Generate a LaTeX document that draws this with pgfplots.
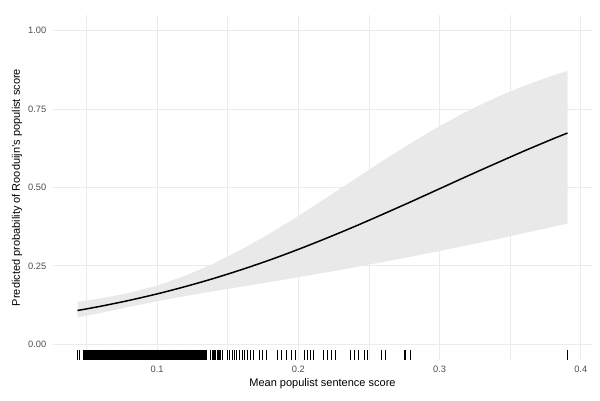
\documentclass[border=0pt]{standalone}
\usepackage{pgfplots}
\pgfplotsset{compat=1.18}
\usepgfplotslibrary{fillbetween}
\usepackage{fontspec}
\setmainfont{Liberation Sans}
\definecolor{gridc}{HTML}{EBEBEB}
\definecolor{ribbonc}{HTML}{E9E9E9}
\definecolor{tickc}{HTML}{4D4D4D}
\begin{document}
\begin{tikzpicture}
\begin{axis}[
  scale only axis, width=539pt, height=345pt,
  xmin=0.02625, xmax=0.40795, ymin=-0.05, ymax=1.05,
  axis line style={draw=none}, tick style={draw=none},
  major tick length=0pt, minor tick length=0pt,
  xtick={0.1,0.2,0.3,0.4}, xticklabels={0.1,0.2,0.3,0.4},
  minor xtick={0.05,0.15,0.25,0.35},
  ytick={0,0.25,0.5,0.75,1}, yticklabels={0.00,0.25,0.50,0.75,1.00},
  xmajorgrids, ymajorgrids, xminorgrids,
  major grid style={gridc, line width=1.07pt},
  minor grid style={gridc, line width=0.53pt},
  xticklabel style={anchor=center, yshift=-9pt, inner sep=0pt, text=tickc, font=\fontsize{9.3}{10}\selectfont},
  yticklabel style={anchor=east, xshift=-6.5pt, inner sep=0pt, text=tickc, font=\fontsize{9.3}{10}\selectfont},
  xlabel={Mean populist sentence score},
  ylabel={Predicted probability of Rooduijn's populist score},
  xlabel style={at={(axis description cs:0.5,-0.0696)}, anchor=center, inner sep=0pt, font=\fontsize{11}{13}\selectfont},
  ylabel style={at={(axis description cs:-0.0668,0.5)}, anchor=center, inner sep=0pt, font=\fontsize{11}{13}\selectfont},
  clip=false,
]
\addplot[name path=U, draw=none, forget plot] coordinates {
(0.0436,0.1350) (0.06,0.1463) (0.08,0.1636) (0.10,0.1873) (0.12,0.2187) (0.14,0.2575)
(0.16,0.3030) (0.18,0.3539) (0.20,0.4094) (0.22,0.4678) (0.24,0.5270) (0.26,0.5859)
(0.28,0.6425) (0.30,0.6957) (0.32,0.7442) (0.34,0.7871) (0.36,0.8247) (0.38,0.8568) (0.3906,0.8718)
};
\addplot[name path=L, draw=none, forget plot] coordinates {
(0.0436,0.0856) (0.06,0.1003) (0.08,0.1191) (0.10,0.1374) (0.12,0.1541) (0.14,0.1692)
(0.16,0.1841) (0.18,0.1988) (0.20,0.2139) (0.22,0.2295) (0.24,0.2456) (0.26,0.2625)
(0.28,0.2797) (0.30,0.2975) (0.32,0.3161) (0.34,0.3349) (0.36,0.3546) (0.38,0.3745) (0.3906,0.3853)
};
\addplot[fill=ribbonc, draw=none, forget plot] fill between[of=U and L];
\addplot[black, line width=1.5pt, smooth] coordinates {
(0.0436,0.1078) (0.06,0.1214) (0.08,0.1399) (0.10,0.1608) (0.12,0.1842) (0.14,0.2100)
(0.16,0.2385) (0.18,0.2693) (0.20,0.3028) (0.22,0.3385) (0.24,0.3759) (0.26,0.4151)
(0.28,0.4551) (0.30,0.4960) (0.32,0.5370) (0.34,0.5771) (0.36,0.6166) (0.38,0.6545) (0.3906,0.6737)
};
\addplot[only marks, mark=|, mark size=5pt, mark options={line width=1.3pt, black}] coordinates {
(0.0436,-0.0335) (0.0452,-0.0335)
(0.0478,-0.0335) (0.0486,-0.0335) (0.0493,-0.0335) (0.0501,-0.0335) (0.0509,-0.0335) (0.0516,-0.0335) (0.0524,-0.0335) (0.0532,-0.0335)
(0.0539,-0.0335) (0.0547,-0.0335) (0.0555,-0.0335) (0.0562,-0.0335) (0.0570,-0.0335) (0.0578,-0.0335) (0.0585,-0.0335) (0.0593,-0.0335)
(0.0601,-0.0335) (0.0608,-0.0335) (0.0616,-0.0335) (0.0624,-0.0335) (0.0631,-0.0335) (0.0639,-0.0335) (0.0647,-0.0335) (0.0654,-0.0335)
(0.0662,-0.0335) (0.0670,-0.0335) (0.0677,-0.0335) (0.0685,-0.0335) (0.0693,-0.0335) (0.0700,-0.0335) (0.0708,-0.0335) (0.0716,-0.0335)
(0.0723,-0.0335) (0.0731,-0.0335) (0.0739,-0.0335) (0.0746,-0.0335) (0.0754,-0.0335) (0.0762,-0.0335) (0.0769,-0.0335) (0.0777,-0.0335)
(0.0785,-0.0335) (0.0792,-0.0335) (0.0800,-0.0335) (0.0808,-0.0335) (0.0815,-0.0335) (0.0823,-0.0335) (0.0831,-0.0335) (0.0838,-0.0335)
(0.0846,-0.0335) (0.0854,-0.0335) (0.0861,-0.0335) (0.0869,-0.0335) (0.0877,-0.0335) (0.0884,-0.0335) (0.0892,-0.0335) (0.0900,-0.0335)
(0.0907,-0.0335) (0.0915,-0.0335) (0.0923,-0.0335) (0.0930,-0.0335) (0.0938,-0.0335) (0.0946,-0.0335) (0.0953,-0.0335) (0.0961,-0.0335)
(0.0969,-0.0335) (0.0976,-0.0335) (0.0984,-0.0335) (0.0992,-0.0335) (0.0999,-0.0335) (0.1007,-0.0335) (0.1015,-0.0335) (0.1022,-0.0335)
(0.1030,-0.0335) (0.1038,-0.0335) (0.1045,-0.0335) (0.1053,-0.0335) (0.1061,-0.0335) (0.1068,-0.0335) (0.1076,-0.0335) (0.1084,-0.0335)
(0.1091,-0.0335) (0.1099,-0.0335) (0.1107,-0.0335) (0.1114,-0.0335) (0.1122,-0.0335) (0.1130,-0.0335) (0.1137,-0.0335) (0.1145,-0.0335)
(0.1153,-0.0335) (0.1160,-0.0335) (0.1168,-0.0335) (0.1176,-0.0335) (0.1183,-0.0335) (0.1191,-0.0335) (0.1199,-0.0335) (0.1206,-0.0335)
(0.1214,-0.0335) (0.1222,-0.0335) (0.1229,-0.0335) (0.1237,-0.0335) (0.1245,-0.0335) (0.1252,-0.0335) (0.1260,-0.0335) (0.1268,-0.0335)
(0.1275,-0.0335) (0.1283,-0.0335) (0.1291,-0.0335) (0.1298,-0.0335) (0.1306,-0.0335) (0.1314,-0.0335) (0.1321,-0.0335) (0.1327,-0.0335)
(0.1338,-0.0335) (0.1350,-0.0335) (0.1378,-0.0335) (0.1390,-0.0335) (0.1402,-0.0335) (0.1414,-0.0335) (0.1426,-0.0335) (0.1438,-0.0335)
(0.1450,-0.0335) (0.1463,-0.0335) (0.1496,-0.0335) (0.1512,-0.0335) (0.1534,-0.0335) (0.1548,-0.0335) (0.1562,-0.0335) (0.1583,-0.0335)
(0.1604,-0.0335) (0.1618,-0.0335) (0.1640,-0.0335) (0.1661,-0.0335) (0.1682,-0.0335) (0.1724,-0.0335) (0.1746,-0.0335) (0.1774,-0.0335)
(0.1852,-0.0335) (0.1880,-0.0335) (0.1915,-0.0335) (0.1951,-0.0335) (0.1979,-0.0335) (0.2042,-0.0335) (0.2064,-0.0335) (0.2085,-0.0335)
(0.2106,-0.0335) (0.2177,-0.0335) (0.2205,-0.0335) (0.2233,-0.0335) (0.2261,-0.0335) (0.2367,-0.0335) (0.2396,-0.0335) (0.2424,-0.0335)
(0.2466,-0.0335) (0.2488,-0.0335) (0.2587,-0.0335) (0.2615,-0.0335) (0.2756,-0.0335) (0.2792,-0.0335) (0.3906,-0.0335)
};
\end{axis}
\pgfresetboundingbox
\useasboundingbox (-53pt,-40pt) rectangle (547pt,360pt);
\end{tikzpicture}
\end{document}
